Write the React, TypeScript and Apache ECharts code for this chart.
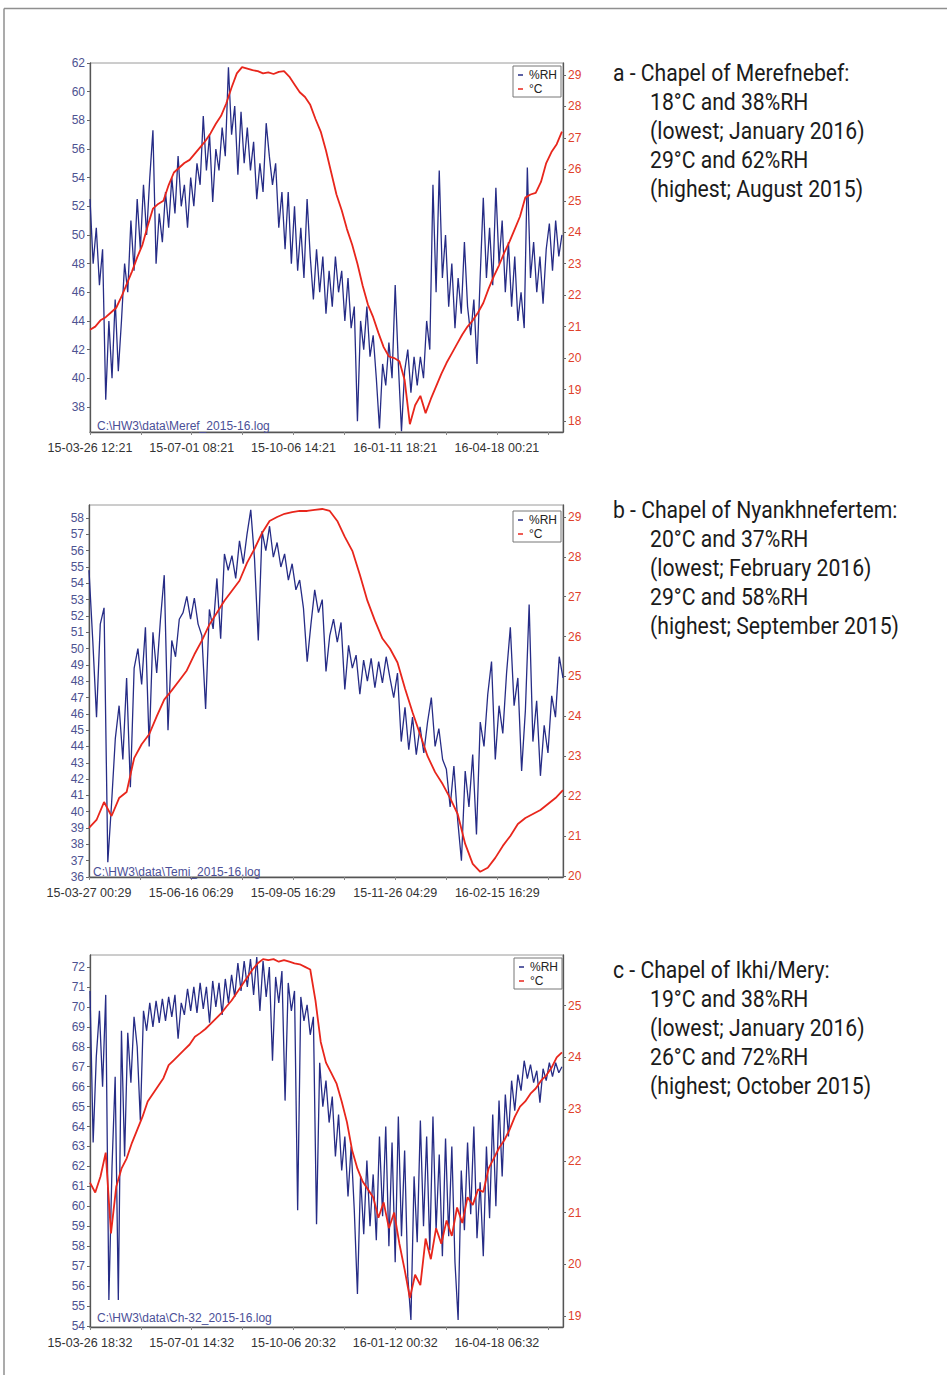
import React, { useEffect, useRef } from "react";
import * as echarts from "echarts";

// ---------- x axis tick labels ----------
const xLabelsA = ["15-03-26 12:21", "15-07-01 08:21", "15-10-06 14:21", "16-01-11 18:21", "16-04-18 00:21"];
const xLabelsB = ["15-03-27 00:29", "15-06-16 06:29", "15-09-05 16:29", "15-11-26 04:29", "16-02-15 16:29"];
const xLabelsC = ["15-03-26 18:32", "15-07-01 14:32", "15-10-06 20:32", "16-01-12 00:32", "16-04-18 06:32"];
const xTickStepA = 97; // days between labelled ticks
const xTickStepB = 81.4;
const xTickStepC = 97;
const xSpanA = 451; // days shown
const xSpanB = 378;
const xSpanC = 451;

// ---------- y axis ticks ----------
const rhTicksA = [38, 40, 42, 44, 46, 48, 50, 52, 54, 56, 58, 60, 62];
const tTicksA = [18, 19, 20, 21, 22, 23, 24, 25, 26, 27, 28, 29];
const rhTicksB = [36, 37, 38, 39, 40, 41, 42, 43, 44, 45, 46, 47, 48, 49, 50, 51, 52, 53, 54, 55, 56, 57, 58];
const tTicksB = [20, 21, 22, 23, 24, 25, 26, 27, 28, 29];
const rhTicksC = [54, 55, 56, 57, 58, 59, 60, 61, 62, 63, 64, 65, 66, 67, 68, 69, 70, 71, 72];
const tTicksC = [19, 20, 21, 22, 23, 24, 25];

// ---------- series (sampled readings) ----------
const rhStepA = 3; // days between RH samples
const rhA = [
  52.5, 48, 50.5, 46.5, 49, 38.5, 44, 40, 45.5, 40.5,
  44, 48, 46, 51, 47.5, 52.5, 49, 53.5, 50, 54,
  57.3, 48, 51.5, 49.5, 53, 50.5, 54, 51.5, 55.5, 52,
  53.5, 50.5, 54, 52, 55, 53.5, 58.3, 54.5, 57, 52.3,
  56, 54.5, 57.5, 55.5, 61.7, 57, 59, 54.2, 58.6, 55,
  57.5, 54.5, 56.5, 52.5, 55, 53, 57.8, 55.5, 53.5, 55,
  50.5, 53, 49, 53, 48, 52, 47.5, 50.5, 47, 52.5,
  48.5, 45.5, 49, 46, 48.5, 44.5, 47.5, 45, 48.5, 46,
  47.5, 44, 47, 43.5, 45, 37, 44, 42, 45, 41.5,
  43, 40, 36.5, 41, 39.5, 42.5, 40, 46.5, 41, 36.3,
  40.5, 42, 39, 41.5, 39.5, 41.5, 40, 44, 42, 53.5,
  46, 54.5, 47, 50, 45, 48, 43.5, 47, 44.5, 49.5,
  45, 43, 45.5, 41, 47, 52.6, 47, 50.5, 46.5, 53.3,
  48, 51, 46, 49.5, 45, 48.5, 44, 46, 43.5, 54.7,
  47, 49.5, 46, 48.5, 45.2, 49, 50.8, 47.5, 51, 48.5, 50,
];
const tStepA = 5;
const tA = [
  20.9, 21.0, 21.2, 21.3, 21.45, 21.6, 21.95, 22.35, 22.75, 23.2,
  23.6, 24.2, 24.75, 24.9, 25.0, 25.5, 25.9, 26.05, 26.2, 26.3,
  26.5, 26.7, 26.9, 27.15, 27.45, 27.7, 28.1, 28.6, 29.05, 29.25,
  29.2, 29.15, 29.12, 29.05, 29.08, 29.03, 29.1, 29.12, 28.95, 28.7,
  28.45, 28.3, 28.05, 27.6, 27.2, 26.6, 25.9, 25.2, 24.7, 24.1,
  23.6, 23.0, 22.3, 21.7, 21.3, 20.8, 20.35, 20.05, 20.0, 19.9,
  19.3, 17.9, 18.5, 18.8, 18.25, 18.7, 19.1, 19.5, 19.85, 20.15,
  20.45, 20.75, 21.0, 21.2, 21.45, 21.75, 22.2, 22.6, 22.95, 23.35,
  23.7, 24.1, 24.5, 25.1, 25.2, 25.25, 25.6, 26.2, 26.55, 26.8, 27.2,
];

const rhStepB = 3;
const rhB = [
  54.8, 50.5, 45.8, 51.5, 52.5, 36.9, 40.5, 44.5, 46.5, 43.2,
  48.2, 41.5, 48.8, 50, 47.8, 51.3, 44, 51, 48.5, 51.8,
  54.5, 45, 50.5, 49.5, 51.8, 52.2, 53.2, 51.8, 53.1, 51.5,
  50.8, 46.3, 52.4, 51.2, 54.3, 50.6, 55.8, 54.8, 55.7, 54.3,
  56.6, 55.2, 57, 58.5, 55.5, 50.5, 57.2, 56, 57.5, 55.6,
  56.5, 55, 55.8, 54.2, 55.2, 53.6, 54.2, 52.5, 49.2, 51.5,
  53.6, 52.2, 53, 48.6, 50.8, 51.8, 50.4, 51.6, 47.5, 50.2,
  48.8, 49.6, 47.2, 49.3, 48, 49.4, 47.6, 49.2, 47.9, 49.5,
  48.2, 47, 48.5, 44.3, 46.4, 43.8, 45.8, 43.5, 45.2, 43.6,
  45.5, 47, 44, 45.1, 43.2, 42.6, 40.3, 42.8, 39.5, 37,
  42.5, 40.3, 43.5, 38.6, 45.5, 44, 47.2, 49.2, 43.2, 46.5,
  44.8, 48.5, 51.3, 46.5, 48.2, 42.5, 46.2, 52.7, 44.3, 46.8,
  42.2, 45.3, 43.6, 47.1, 45.8, 49.5, 48.2,
];
const tStepB = 6;
const tB = [
  21.2, 21.4, 21.85, 21.5, 21.95, 22.1, 22.95, 23.3, 23.55, 24.0,
  24.42, 24.65, 24.9, 25.15, 25.55, 25.9, 26.3, 26.6, 26.9, 27.15,
  27.4, 27.85, 28.2, 28.6, 28.9, 29.0, 29.08, 29.12, 29.15, 29.15,
  29.18, 29.2, 29.15, 28.9, 28.5, 28.15, 27.55, 26.9, 26.4, 25.95,
  25.7, 25.35, 24.7, 24.1, 23.55, 23.0, 22.6, 22.3, 21.95, 21.55,
  20.8, 20.3, 20.1, 20.2, 20.45, 20.75, 21.0, 21.3, 21.45, 21.55,
  21.65, 21.8, 21.95, 22.15,
];

const rhStepC = 3;
const rhC = [
  70.8, 63.2, 67.5, 69.8, 66, 70.6, 55.3, 62, 66.5, 55.3,
  68.8, 62.5, 68.7, 66.2, 69.5, 68, 64.3, 69.8, 68.8, 70.2,
  69, 70.3, 69.2, 70.4, 69.3, 70.5, 69.5, 70.6, 68.4, 70.2,
  69.6, 70.9, 69.8, 71, 69.7, 71.2, 69.9, 71, 69.2, 71.3,
  70, 71.2, 69.6, 71.4, 70.2, 71.6, 70.5, 72.2, 70.8, 72.3,
  71, 72.4, 70.6, 72.5, 69.8, 72.3, 70.5, 72, 67.3, 71.5,
  70.2, 71.8, 65.3, 71.2, 69.8, 70.8, 59.8, 70.5, 69.3, 70.1,
  68.6, 69.5, 59.1, 67.2, 65, 66.3, 64.2, 65.5, 62.5, 64.6,
  61.8, 63.5, 60.5, 63, 59.8, 55.6, 61.5, 58.6, 62.3, 59,
  61.6, 58.3, 63.5, 59.5, 64, 58, 63.2, 57.2, 64.5, 58.5,
  62.8, 56.5, 54.3, 61.5, 58.2, 64.3, 59, 63.5, 57.8, 64.5,
  58.8, 62.6, 57.5, 63.4, 58.5, 63, 57.2, 54.3, 61.8, 58.8,
  63.2, 59.6, 64, 58.4, 61.2, 57.5, 63, 59.4, 64.6, 60,
  65.3, 61.5, 65.6, 63.5, 66.3, 64.8, 66.6, 65.8, 67.3, 66.4,
  67.1, 66.2, 66.8, 65.2, 66.9, 66.3, 67.2, 66.5, 67.2, 66.7, 67,
];
const tStepC = 5;
const tC = [
  21.58, 21.39, 21.7, 22.16, 20.6, 21.5, 21.85, 22.05, 22.35, 22.6,
  22.85, 23.15, 23.3, 23.45, 23.6, 23.85, 23.95, 24.05, 24.15, 24.25,
  24.4, 24.47, 24.55, 24.65, 24.75, 24.85, 24.98, 25.1, 25.25, 25.4,
  25.55, 25.7, 25.82, 25.9, 25.88, 25.9, 25.85, 25.88, 25.85, 25.82,
  25.8, 25.75, 25.7, 25.1, 24.3, 23.9, 23.7, 23.5, 23.15, 22.75,
  22.2, 21.85, 21.6, 21.45, 21.3, 20.9, 21.2, 20.7, 21.0, 20.4,
  19.9, 19.35, 19.8, 19.6, 20.5, 20.1, 20.7, 20.4, 20.85, 20.55,
  21.1, 20.8, 21.3, 21.15, 21.45, 21.4, 21.85, 22.05, 22.25, 22.4,
  22.6, 22.85, 23.05, 23.15, 23.3, 23.4, 23.55, 23.65, 23.8, 24.0, 24.1,
];

// ---------- texts ----------
const logNames = ["C:\\HW3\\data\\Meref_2015-16.log", "C:\\HW3\\data\\Temi_2015-16.log", "C:\\HW3\\data\\Ch-32_2015-16.log"];
const notesA = ["a - Chapel of Merefnebef:", "18°C and 38%RH", "(lowest; January 2016)", "29°C and 62%RH", "(highest; August 2015)"];
const notesB = ["b - Chapel of Nyankhnefertem:", "20°C and 37%RH", "(lowest; February 2016)", "29°C and 58%RH", "(highest; September 2015)"];
const notesC = ["c - Chapel of Ikhi/Mery:", "19°C and 38%RH", "(lowest; January 2016)", "26°C and 72%RH", "(highest; October 2015)"];
const legendNames = ["%RH", "°C"];

const BLUE = "#262c86";
const RED = "#e8261c";
const LBL_BLUE = "#4d5291";
const LBL_RED = "#e0402a";
const AX = "#555";
const FONT = "Liberation Sans";

const toPairs = (vals: number[], step: number) => vals.map((v, i) => [i * step, v]);
const range = (n: number, step: number) => Array.from({ length: n }, (_, i) => i * step);

function xAxisFor(grid: number, span: number, step: number, labels: string[]) {
  const labelVals = range(labels.length, step);
  const tickVals = range(labels.length * 2, step / 2).filter((v) => v <= span);
  return {
    type: "value",
    gridIndex: grid,
    min: 0,
    max: span,
    splitLine: { show: false },
    axisLine: { show: true, onZero: false, lineStyle: { color: AX, width: 1.3 } },
    axisTick: { show: true, length: 3, customValues: tickVals, lineStyle: { color: "#888" } },
    axisLabel: {
      customValues: labelVals,
      margin: 9,
      color: "#333",
      fontSize: 12.5,
      fontFamily: FONT,
      formatter: (v: number) => {
        const k = Math.round(v / step);
        return Math.abs(v - k * step) < 0.5 && labels[k] ? labels[k] : "";
      },
    },
  };
}

function yAxisFor(grid: number, pos: "left" | "right", min: number, max: number, ticks: number[], color: string) {
  return {
    type: "value",
    gridIndex: grid,
    position: pos,
    min,
    max,
    splitLine: { show: false },
    axisLine: { show: true, onZero: false, lineStyle: { color: AX, width: 1.3 } },
    axisTick: { show: true, length: 3, customValues: ticks, lineStyle: { color: "#666" } },
    axisLabel: { customValues: ticks, margin: 5, color, fontSize: 12, fontFamily: FONT },
  };
}

function notesGraphic(lines: string[], y0: number) {
  return lines.map((t, i) => ({
    type: "text",
    x: i === 0 ? 613 : 650,
    y: y0 + i * 29,
    scaleX: 0.9,
    style: { text: t, fontSize: 23.5, fontFamily: "Roboto", fill: "#1b1b1b", verticalAlign: "middle" },
  }));
}

function legendGraphic(x: number, y: number) {
  return [
    { type: "rect", shape: { x, y, width: 48, height: 31 }, style: { fill: "#fff", stroke: "#777", lineWidth: 1 }, z: 10 },
    { type: "line", shape: { x1: x + 5, y1: y + 9, x2: x + 10, y2: y + 9 }, style: { stroke: BLUE, lineWidth: 1.5 }, z: 11 },
    { type: "line", shape: { x1: x + 5, y1: y + 23, x2: x + 10, y2: y + 23 }, style: { stroke: RED, lineWidth: 1.5 }, z: 11 },
    { type: "text", x: x + 16, y: y + 9, style: { text: legendNames[0], fontSize: 12, fontFamily: FONT, fill: "#222", verticalAlign: "middle" }, z: 11 },
    { type: "text", x: x + 16, y: y + 23, style: { text: legendNames[1], fontSize: 12, fontFamily: FONT, fill: "#222", verticalAlign: "middle" }, z: 11 },
  ];
}

function logGraphic(text: string, x: number, y: number) {
  return { type: "text", x, y, style: { text, fontSize: 12, fontFamily: FONT, fill: "#4b4f97", verticalAlign: "middle" }, z: 9 };
}

function lineSeries(name: string, data: number[][], xi: number, yi: number, color: string, width: number, z: number) {
  return {
    name,
    type: "line",
    xAxisIndex: xi,
    yAxisIndex: yi,
    data,
    showSymbol: false,
    symbol: "none",
    lineStyle: { color, width },
    itemStyle: { color },
    z,
  };
}

export default function App() {
  const ref = useRef<HTMLDivElement>(null);
  useEffect(() => {
    if (!ref.current) return;
    const chart = echarts.init(ref.current, undefined, { renderer: "svg" });
    const gridStyle = { show: true, borderColor: "#9a9a9a", borderWidth: 1, backgroundColor: "#fff" };
    chart.setOption({
      animation: false,
      backgroundColor: "#fff",
      textStyle: { fontFamily: FONT },
      grid: [
        { left: 90, top: 63, width: 473, height: 369, ...gridStyle },
        { left: 89, top: 505, width: 474, height: 372, ...gridStyle },
        { left: 90, top: 955, width: 473, height: 372, ...gridStyle },
      ],
      xAxis: [
        xAxisFor(0, xSpanA, xTickStepA, xLabelsA),
        xAxisFor(1, xSpanB, xTickStepB, xLabelsB),
        xAxisFor(2, xSpanC, xTickStepC, xLabelsC),
      ],
      yAxis: [
        yAxisFor(0, "left", 36.25, 62, rhTicksA, LBL_BLUE),
        yAxisFor(0, "right", 17.65, 29.38, tTicksA, LBL_RED),
        yAxisFor(1, "left", 36, 58.8, rhTicksB, LBL_BLUE),
        yAxisFor(1, "right", 19.97, 29.3, tTicksB, LBL_RED),
        yAxisFor(2, "left", 53.95, 72.6, rhTicksC, LBL_BLUE),
        yAxisFor(2, "right", 18.79, 25.98, tTicksC, LBL_RED),
      ],
      series: [
        lineSeries(legendNames[0], toPairs(rhA, rhStepA), 0, 0, BLUE, 1.3, 2),
        lineSeries(legendNames[1], toPairs(tA, tStepA), 0, 1, RED, 1.8, 3),
        lineSeries(legendNames[0], toPairs(rhB, rhStepB), 1, 2, BLUE, 1.3, 2),
        lineSeries(legendNames[1], toPairs(tB, tStepB), 1, 3, RED, 1.8, 3),
        lineSeries(legendNames[0], toPairs(rhC, rhStepC), 2, 4, BLUE, 1.3, 2),
        lineSeries(legendNames[1], toPairs(tC, tStepC), 2, 5, RED, 1.8, 3),
      ],
      graphic: [
        { type: "line", shape: { x1: 4, y1: 8.5, x2: 947, y2: 8.5 }, style: { stroke: "#8f8f8f", lineWidth: 1.5 } },
        { type: "line", shape: { x1: 4, y1: 8.5, x2: 4, y2: 1375 }, style: { stroke: "#8f8f8f", lineWidth: 1.5 } },
        ...legendGraphic(513, 66),
        ...legendGraphic(513, 511),
        ...legendGraphic(514, 958),
        logGraphic(logNames[0], 97, 426),
        logGraphic(logNames[1], 93, 872),
        logGraphic(logNames[2], 97, 1318),
        ...notesGraphic(notesA, 72.5),
        ...notesGraphic(notesB, 509.5),
        ...notesGraphic(notesC, 969.5),
      ],
    });
    return () => chart.dispose();
  }, []);
  return (
    <div
      ref={ref}
      style={{ position: "absolute", left: 0, top: 0, width: 947, height: 1375, background: "#fff" }}
    />
  );
}
